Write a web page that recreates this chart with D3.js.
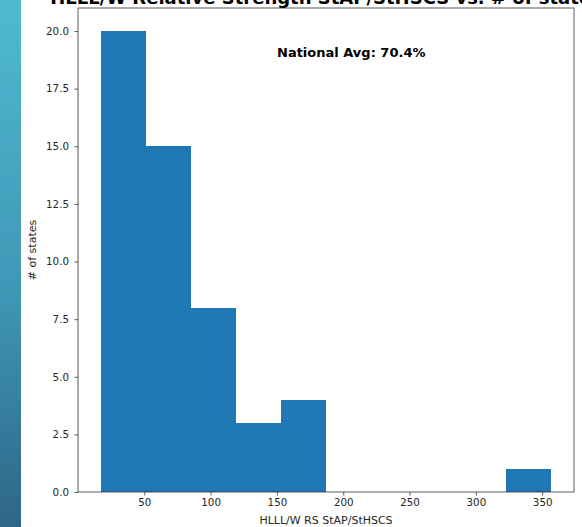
<!DOCTYPE html>
<html><head><meta charset="utf-8">
<script src="https://cdn.jsdelivr.net/npm/d3@7"></script>
<style>body{margin:0;background:#fff;}svg{display:block;font-family:"DejaVu Sans",sans-serif;}</style>
</head><body>
<svg id="c" width="582" height="527"></svg>
<script>
const binEdges = [17, 51, 85, 119, 153, 187, 221, 255, 289, 323, 357];
const counts = [20, 15, 8, 3, 4, 0, 0, 0, 0, 1];
const xTicks = [50, 100, 150, 200, 250, 300, 350];
const yTicks = [0, 2.5, 5, 7.5, 10, 12.5, 15, 17.5, 20];
const title = "HLLL/W Relative Strength StAP/StHSCS vs. # of states";
const xLabel = "HLLL/W RS StAP/StHSCS";
const yLabel = "# of states";
const note = "National Avg: 70.4%";

const svg = d3.select("#c");
const defs = svg.append("defs");
const g = defs.append("linearGradient").attr("id","strip").attr("x1",0).attr("y1",0).attr("x2",0).attr("y2",1);
g.append("stop").attr("offset","0%").attr("stop-color","#4fbad2");
g.append("stop").attr("offset","55%").attr("stop-color","#3f97b6");
g.append("stop").attr("offset","100%").attr("stop-color","#2e6688");
svg.append("rect").attr("x",0).attr("y",0).attr("width",21).attr("height",527).attr("fill","url(#strip)");

const L = 78, R = 574, T = 8, B = 492;
const span = binEdges[binEdges.length-1] - binEdges[0];
const x = d3.scaleLinear().domain([binEdges[0] - span*0.05, binEdges[binEdges.length-1] + span*0.05]).range([L, R]);
const y = d3.scaleLinear().domain([0, d3.max(counts)*1.05]).range([B, T]);

const bins = counts.map((c,i)=>({x0:binEdges[i], x1:binEdges[i+1], c}));
svg.append("g").attr("shape-rendering","crispEdges").selectAll("rect").data(bins.filter(d=>d.c>0)).join("rect")
  .attr("x", d=>x(d.x0)).attr("width", d=>x(d.x1)-x(d.x0))
  .attr("y", d=>y(d.c)).attr("height", d=>y(0)-y(d.c))
  .attr("fill","#1f77b4");

const xa = svg.append("g").attr("transform",`translate(0,${B})`)
  .call(d3.axisBottom(x).tickValues(xTicks).tickFormat(d3.format("d")).tickSize(3.5).tickPadding(3.5));
const ya = svg.append("g").attr("transform",`translate(${L},0)`)
  .call(d3.axisLeft(y).tickValues(yTicks).tickFormat(d3.format(".1f")).tickSize(3.5).tickPadding(5.5));
[xa,ya].forEach(a=>{a.select(".domain").remove();
  a.selectAll("text").attr("font-size",10.3).attr("font-family","DejaVu Sans").attr("fill","#262626");
  a.selectAll("line").attr("stroke","#333").attr("stroke-width",0.8);});

svg.append("rect").attr("x",L).attr("y",T).attr("width",R-L).attr("height",B-T)
  .attr("fill","none").attr("stroke","#333").attr("stroke-width",0.8);

svg.append("text").attr("x",(L+R)/2).attr("y",4).attr("text-anchor","middle")
  .attr("font-size",18).attr("font-weight","bold").attr("fill","#000").text(title);
svg.append("text").attr("x",277).attr("y",57).attr("font-size",13).attr("font-weight","bold").attr("fill","#000").text(note);
svg.append("text").attr("x",(L+R)/2).attr("y",524).attr("text-anchor","middle").attr("font-size",11).attr("fill","#262626").text(xLabel);
svg.append("text").attr("transform",`translate(36,${(T+B)/2}) rotate(-90)`).attr("text-anchor","middle").attr("font-size",11).attr("fill","#262626").text(yLabel);
</script>
</body></html>
